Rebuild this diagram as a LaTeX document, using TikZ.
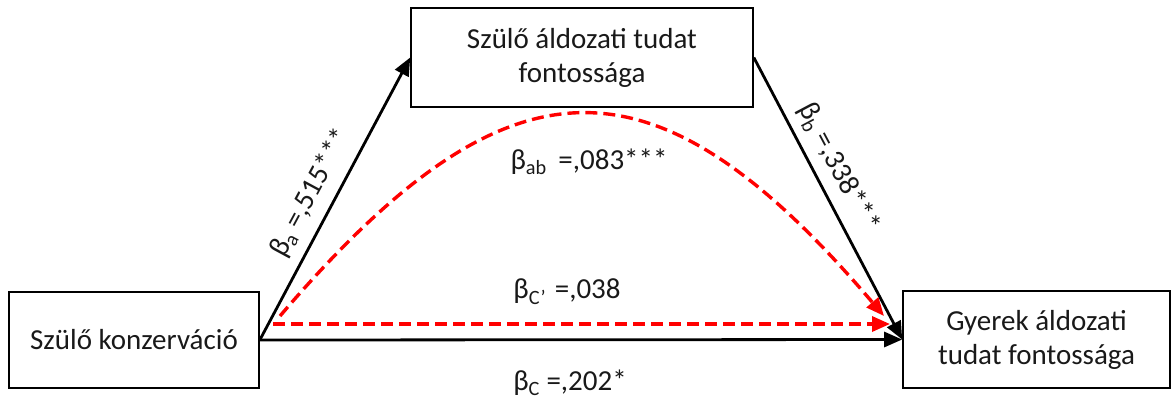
\documentclass[tikz,border=0pt]{standalone}
\usepackage{fontspec}
\setmainfont{Carlito}
\usetikzlibrary{arrows.meta}
\begin{document}
\begin{tikzpicture}[x=1pt,y=-1pt,
  box/.style={draw=black,line width=1.6pt,rectangle,align=center,inner sep=0pt,font=\fontsize{29}{34}\selectfont,text=black!90},
  lbl/.style={font=\fontsize{29}{34}\selectfont,text=black!90,inner sep=0pt},
  path/.style={line width=2.8pt,-{Triangle[length=18pt,width=15pt]}},
  indirect/.style={line width=3.4pt,red,dash pattern=on 12pt off 6pt,-{Triangle[length=18pt,width=15pt]}}]
\useasboundingbox (0,0) rectangle (1174,400);
\node[box,minimum width=250pt,minimum height=96pt] (L) at (134,340) {Szülő konzerváció};
\node[box,minimum width=342pt,minimum height=99pt] (T) at (582,57.5) {Szülő áldozati tudat\\fontossága};
\node[box,minimum width=267pt,minimum height=97pt] (R) at (1036.5,339.5) {Gyerek áldozati\\tudat fontossága};
\draw[path] (L.east) -- (T.west);
\draw[path] (T.east) -- (R.west);
\draw[path] (L.east) -- (R.west);
\coordinate (cs) at (273,324);
\coordinate (ce) at (890,324);
\draw[indirect] (cs) -- (ce);
\coordinate (ks) at (280,316);
\coordinate (ke) at (884,316);
\draw[indirect] (ks) .. controls (510,47) and (655,47) .. (ke);
\node[lbl,rotate=61.7] (la) at (311,193) {β\textsubscript{a} =,515***};
\node[lbl,rotate=-62] (lb) at (838,168) {β\textsubscript{b} =,338***};
\node[lbl] (lab) at (589,162) {β\textsubscript{ab}\hspace{0.4em}=,083***};
\node[lbl] (lcp) at (567,292) {β\textsubscript{C’}\hspace{0.3em}=,038};
\node[lbl] (lc) at (570,383) {β\textsubscript{C} =,202*};
\end{tikzpicture}
\end{document}
